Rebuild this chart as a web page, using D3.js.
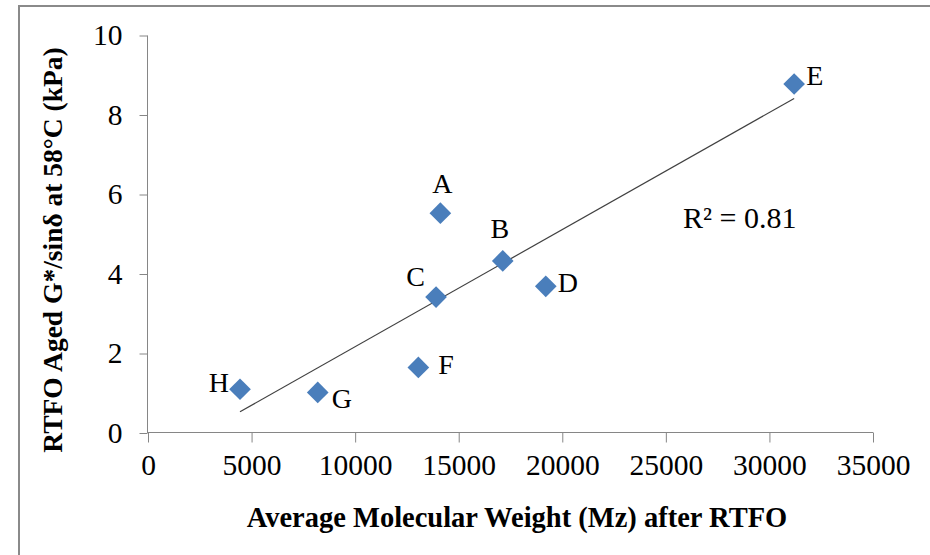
<!DOCTYPE html>
<html>
<head>
<meta charset="utf-8">
<script src="https://cdn.jsdelivr.net/npm/d3@7"></script>
<style>
  body { margin: 0; background: #fff; }
  svg text { font-family: "Liberation Serif", "Times New Roman", serif; fill: #000; }
  .axis path, .axis line { stroke: #868686; }
</style>
</head>
<body>
<div id="chart"></div>
<script>
// binder samples: Mz after RTFO vs aged G*/sin(delta) at 58C
const sampleNames = ['A', 'B', 'C', 'D', 'E', 'F', 'G', 'H'];
const mzValues = [14114, 17126, 13906, 19203, 31193, 13052, 8194, 4442];
const gStarValues = [5.53, 4.33, 3.42, 3.69, 8.78, 1.65, 1.02, 1.10];
const xTicks = [0, 5000, 10000, 15000, 20000, 25000, 30000, 35000];
const yTicks = [0, 2, 4, 6, 8, 10];
const r2Text = 'R² = 0.81';

let w = 930, h = 555;
let svg = d3.select('#chart').append('svg').attr('width', w).attr('height', h);

// outer frame, only top and left edges fall inside the picture
svg.append('rect').attr('x', 19).attr('y', 6).attr('width', w + 20).attr('height', h + 20)
    .attr('fill', 'none').attr('stroke', '#8a8a8a').attr('stroke-width', 2);

let x = d3.scaleLinear().domain([0, 35000]).range([148, 873]);
let y = d3.scaleLinear().domain([0, 10]).range([433, 35.5]);

let xAxis = d3.axisBottom(x).tickValues(xTicks).tickSize(10).tickPadding(12).tickFormat(d3.format('d'));
let yAxis = d3.axisLeft(y).tickValues(yTicks).tickSize(8).tickPadding(17);

let gx = svg.append('g').classed('axis', true).attr('transform', `translate(0,${y(0) - 0.5})`).call(xAxis);
let gy = svg.append('g').classed('axis', true).attr('transform', `translate(${x(0) - 0.5},0)`).call(yAxis);
gx.select('.domain').attr('d', `M${x(0)},0H${x(35000)}`);
gy.select('.domain').attr('d', `M0,${y(10)}V${y(0)}`);
svg.selectAll('.axis text').attr('font-size', 29.5).attr('fill', '#000')
    .style('font-family', '"Liberation Serif", serif');
gx.selectAll('text').attr('dy', '0.71em');

// axis titles
svg.append('text').attr('x', 517).attr('y', 527).attr('text-anchor', 'middle')
    .attr('font-size', 28.5).attr('font-weight', 'bold')
    .text('Average Molecular Weight (Mz) after RTFO');
svg.append('text').attr('transform', 'translate(62,250) rotate(-90)').attr('text-anchor', 'middle')
    .attr('font-size', 27.5).attr('font-weight', 'bold')
    .text('RTFO Aged G*/sinδ at 58°C (kPa)');

// linear trendline (least squares over the samples)
let mx = d3.mean(mzValues), my = d3.mean(gStarValues);
let sxy = d3.sum(mzValues, (v, i) => (v - mx) * (gStarValues[i] - my));
let sxx = d3.sum(mzValues, (v) => (v - mx) * (v - mx));
let slope = sxy / sxx, intercept = my - slope * mx;
let [xMin, xMax] = d3.extent(mzValues);
let line = d3.line().x((d) => x(d)).y((d) => y(intercept + slope * d));
svg.append('path').datum([xMin, xMax]).attr('d', line)
    .attr('fill', 'none').attr('stroke', '#404040').attr('stroke-width', 1.2);

svg.append('text').attr('x', x(25830)).attr('y', y(5.15)).attr('font-size', 30).text(r2Text);

// markers
let points = sampleNames.map((n, i) => ({ name: n, mz: mzValues[i], g: gStarValues[i] }));
let diamond = d3.symbol().type(d3.symbolSquare).size(235);
svg.selectAll('.pt').data(points).enter().append('path').classed('pt', true)
    .attr('d', diamond)
    .attr('transform', (d) => `translate(${x(d.mz)},${y(d.g)}) rotate(45)`)
    .attr('fill', '#4a7ebb');

// label placement relative to each marker: [dx, dy, anchor]
const labelPlace = {
    A: [2, -20, 'middle'], B: [-3, -23, 'middle'], C: [-11, -11, 'end'], D: [12, 6, 'start'],
    E: [12, 1, 'start'], F: [20, 7, 'start'], G: [14, 16, 'start'], H: [-11, 3, 'end']
};
svg.selectAll('.lbl').data(points).enter().append('text').classed('lbl', true)
    .attr('x', (d) => x(d.mz) + labelPlace[d.name][0])
    .attr('y', (d) => y(d.g) + labelPlace[d.name][1])
    .attr('text-anchor', (d) => labelPlace[d.name][2])
    .attr('font-size', 28)
    .text((d) => d.name);
</script>
</body>
</html>
